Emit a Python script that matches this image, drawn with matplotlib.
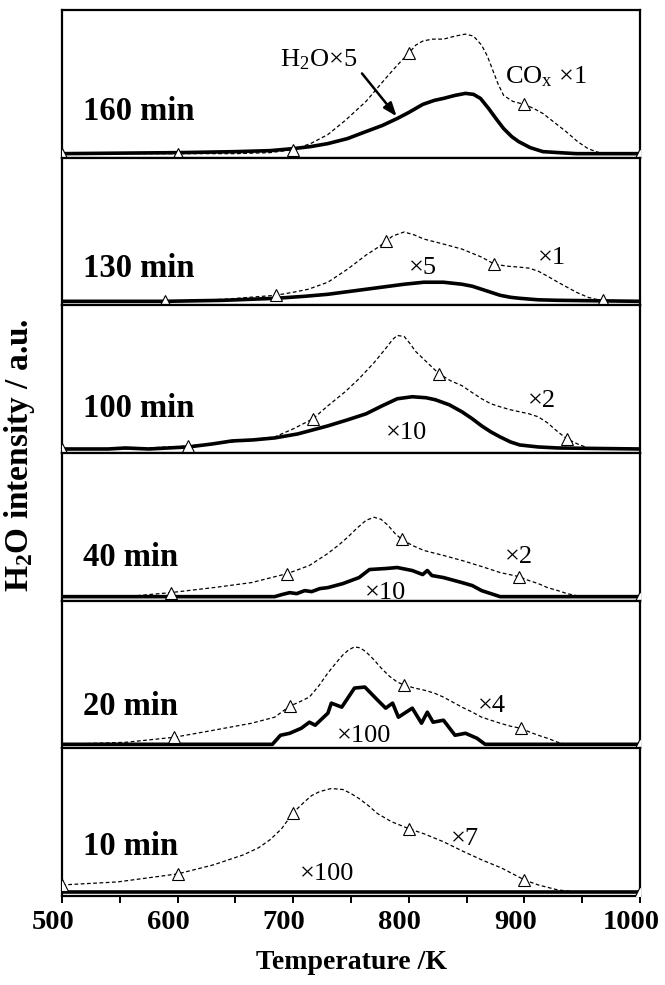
import matplotlib
matplotlib.use("Agg")
import matplotlib.pyplot as plt
import matplotlib.transforms as mtransforms
import numpy as np

plt.rcParams['font.family'] = ['Liberation Serif', 'DejaVu Serif']
plt.rcParams['mathtext.fontset'] = 'custom'
plt.rcParams['mathtext.rm'] = 'Liberation Serif'
plt.rcParams['mathtext.bf'] = 'Liberation Serif:bold'
plt.rcParams['mathtext.default'] = 'regular'

# ---------------- data (heights in arbitrary units) ----------------
panels = ["160 min", "130 min", "100 min", "40 min", "20 min", "10 min"]

# 160 min
cox160_T = [500, 600, 650, 680, 700, 715, 730, 745, 763, 780, 790, 800, 806, 812, 820, 830, 840, 849, 856, 863, 868,
            872, 877, 882, 890, 900, 908, 916, 926, 936, 946, 955, 962, 968, 1000]
cox160_I = [0, 0, 0, 1, 4, 10, 19, 33, 52, 75, 88, 100, 108, 112, 114, 114, 117, 119, 117, 108, 97,
            85, 70, 58, 52, 49, 45, 40, 31, 22, 12, 5, 2, 0, 0]
h2o160_T = [500, 600, 650, 680, 700, 715, 730, 747, 763, 777, 790, 800, 812, 822, 830, 840, 849, 856, 862, 869,
            876, 882, 889, 895, 905, 916, 930, 945, 1000]
h2o160_I = [0, 1, 2, 3, 5, 7, 10, 15, 22, 28, 35, 41, 49, 53, 55, 58, 60, 59, 55, 45,
            34, 25, 17, 12, 6, 2, 1, 0, 0]
tri160 = [500, 600, 700, 800, 900, 1000]

# 130 min
cox130_T = [500, 589, 640, 685, 700, 713, 730, 747, 763, 775, 786, 796, 805, 813, 830, 846, 863, 874, 885, 896,
            904, 912, 920, 929, 937, 945, 955, 962, 975, 1000]
cox130_I = [0, 0, 2, 6, 9, 12, 19, 32, 46, 55, 65, 69, 66, 62, 57, 52, 44, 37, 35, 34,
            33, 30, 25, 19, 14, 9, 4, 2, 0, 0]
h2o130_T = [500, 589, 640, 685, 710, 730, 763, 796, 813, 830, 846, 855, 863, 871, 879, 888, 896, 912, 929, 1000]
h2o130_I = [0, 0, 1, 3, 5, 7, 12, 17, 19, 19, 17, 15, 12, 9, 6, 4, 3, 1.5, 1, 0]
tri130 = [589, 685, 780, 874, 968]

# 100 min
cox100_T = [500, 555, 609, 647, 684, 700, 717, 730, 745, 757, 770, 780, 786, 790, 796, 801, 806, 816, 826, 836,
            846, 855, 863, 871, 879, 888, 896, 904, 912, 920, 929, 937, 946, 955, 970, 1000]
cox100_I = [0, 0, 3, 7, 12, 20, 30, 43, 57, 70, 86, 100, 109, 113, 112, 105, 97, 86, 75, 68,
            63, 56, 50, 45, 42, 39, 37, 35, 32, 26, 17, 10, 5, 1, 0, 0]
h2o100_T = [500, 540, 555, 575, 609, 630, 647, 665, 684, 704, 730, 747, 763, 777, 790, 803, 815, 823, 835, 846,
            855, 863, 871, 879, 888, 896, 912, 929, 1000]
h2o100_I = [0, 0, 1, 0, 2, 5, 8, 9, 11, 15, 23, 29, 35, 43, 50, 52, 51, 49, 44, 37,
            30, 23, 17, 12, 7, 4, 2, 1, 0]
tri100 = [500, 609, 717, 826, 937]

# 40 min
cox40_T = [500, 565, 594, 631, 664, 695, 714, 730, 740, 747, 755, 763, 770, 776, 782, 788, 794, 803, 813, 830,
           846, 863, 879, 895, 904, 912, 920, 929, 937, 945, 960, 1000]
cox40_I = [0, 1, 4, 9, 14, 23, 31, 43, 52, 59, 68, 76, 79, 77, 71, 63, 57, 51, 46, 41,
           36, 30, 24, 20, 16, 13, 9, 6, 3, 1, 0, 0]
h2o40_T = [500, 684, 690, 697, 703, 710, 716, 723, 730, 743, 757, 766, 780, 790, 803, 812, 816, 820, 830, 846,
           855, 863, 879, 1000]
h2o40_I = [0, 0, 2, 4, 3, 6, 5, 8, 9, 13, 19, 27, 28, 29, 26, 22, 26, 21, 19, 14,
           11, 6, 0, 0]
tri40 = [594, 695, 794, 895, 1000]

# 20 min
cox20_T = [500, 555, 597, 631, 664, 684, 697, 705, 714, 722, 730, 737, 743, 748, 753, 758, 763, 770, 776, 783,
           790, 796, 805, 813, 822, 830, 838, 846, 855, 863, 871, 879, 888, 897, 905, 912, 920, 929, 936, 1000]
cox20_I = [0, 2, 7, 14, 21, 27, 38, 42, 47, 58, 71, 81, 89, 94, 97, 96, 92, 84, 76, 68,
           62, 59, 56, 54, 51, 47, 42, 37, 32, 27, 24, 21, 18, 16, 12, 9, 6, 2, 0, 0]
h2o20_T = [500, 682, 689, 697, 707, 714, 719, 730, 733, 742, 753, 762, 773, 780, 786, 791, 803, 811, 816, 821,
           830, 840, 849, 859, 866, 1000]
h2o20_I = [0, 0, 9, 11, 16, 22, 19, 31, 41, 37, 56, 57, 44, 36, 41, 27, 36, 21, 32, 22,
           24, 9, 11, 6, 0, 0]
tri20 = [597, 697, 796, 897, 1000]

# 10 min
cox10_T = [500, 548, 600, 631, 657, 670, 680, 690, 700, 710, 716, 723, 733, 743, 750, 757, 765, 773, 785, 800,
           813, 830, 846, 863, 880, 890, 900, 912, 929, 945, 1000]
cox10_I = [7, 10, 18, 27, 37, 44, 52, 63, 79, 90, 96, 100, 103, 102, 98, 93, 86, 78, 70, 63,
           58, 50, 41, 32, 24, 18, 12, 7, 2, 0, 0]
h2o10_T = [500, 1000]
h2o10_I = [0, 0]
tri10 = [500, 600, 700, 800, 900, 1000]

cox_T = [cox160_T, cox130_T, cox100_T, cox40_T, cox20_T, cox10_T]
cox_I = [cox160_I, cox130_I, cox100_I, cox40_I, cox20_I, cox10_I]
h2o_T = [h2o160_T, h2o130_T, h2o100_T, h2o40_T, h2o20_T, h2o10_T]
h2o_I = [h2o160_I, h2o130_I, h2o100_I, h2o40_I, h2o20_I, h2o10_I]
tri_T = [tri160, tri130, tri100, tri40, tri20, tri10]

# scale factor labels: (text, T, height)
h2o_labels = [None, ("×5", 812, 33), ("×10", 798, 16), ("×10", 780, 4), ("×100", 761, 8), ("×100", 729, 18)]
cox_labels = [None, ("×1", 924, 43), ("×2", 915, 48), ("×2", 895, 39), ("×4", 872, 38), ("×7", 849, 53)]
name_y = [42, 33, 40, 39, 38, 45]
xticks_major = [500, 600, 700, 800, 900, 1000]
xticks_minor = [550, 650, 750, 850, 950]

# ---------------- figure ----------------
fig = plt.figure(figsize=(6.65, 9.85), dpi=100)
gs = fig.add_gridspec(6, 1, left=62/665, right=640/665, top=1-10/985, bottom=1-896/985, hspace=0)

axes = []
for i in range(6):
    ax = fig.add_subplot(gs[i])
    axes.append(ax)
    ax.set_xlim(500, 1000)
    ax.set_ylim(-4, 143)
    for s in ax.spines.values():
        s.set_linewidth(1.6)
    ax.set_yticks([])
    ax.plot(cox_T[i], cox_I[i], color='black', lw=0.9, ls=(0, (3, 2)), zorder=2)
    ax.plot(h2o_T[i], h2o_I[i], color='black', lw=2.6, solid_joinstyle='round', zorder=3)
    ty = np.interp(tri_T[i], cox_T[i], cox_I[i])
    ax.plot(tri_T[i], ty, ls='none', marker='^', ms=9, mfc='white', mec='black', mew=0.8, zorder=4)
    ax.text(518, name_y[i], panels[i], fontsize=23.5, fontweight='bold', ha='left', va='center')
    if h2o_labels[i]:
        t, x, y = h2o_labels[i]
        ax.text(x, y, t, fontsize=19, ha='center', va='center', zorder=5)
    if cox_labels[i]:
        t, x, y = cox_labels[i]
        ax.text(x, y, t, fontsize=19, ha='center', va='center', zorder=5)
    if i < 5:
        ax.set_xticks([])
    else:
        ax.set_xticks(xticks_major)
        ax.set_xticks(xticks_minor, minor=True)
        ax.tick_params(axis='x', which='both', direction='out', length=5, width=1.4, labelsize=20.5, pad=5)
        ax.tick_params(axis='x', which='minor', length=5)
        shift = mtransforms.ScaledTranslation(-9/100, 0, fig.dpi_scale_trans)
        for lab in ax.get_xticklabels():
            lab.set_fontweight('bold')
            lab.set_transform(lab.get_transform() + shift)
        ax.set_xlabel('Temperature /K', fontsize=20, fontweight='bold', labelpad=11)

top = axes[0]
top.text(722, 94, 'H$_2$O×5', fontsize=19, ha='center', va='center')
top.text(919, 77, 'CO$_x$ ×1', fontsize=19, ha='center', va='center')
top.annotate('', xy=(791, 35), xytext=(758, 82),
             arrowprops=dict(arrowstyle='-|>,head_length=0.8,head_width=0.3', color='black', lw=1.8))

fig.text(0.03, 1-455/985, 'H$_2$O intensity / a.u.', rotation=90, fontsize=24,
         fontweight='bold', ha='center', va='center')

fig.savefig('out.png', dpi=100)
